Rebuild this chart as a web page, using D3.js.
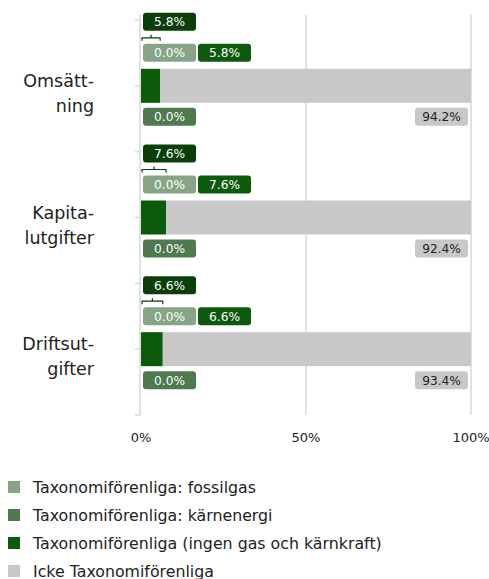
<!DOCTYPE html>
<html>
<head>
<meta charset="utf-8">
<script src="https://cdn.jsdelivr.net/npm/d3@7"></script>
<style>
  body { margin: 0; background: #fff; }
  svg text { font-family: "DejaVu Sans", sans-serif; }
</style>
</head>
<body>
<div id="chart-area"></div>
<script>
const categories = [["Omsätt-", "ning"], ["Kapita-", "lutgifter"], ["Driftsut-", "gifter"]];
const fossilgas = [0.0, 0.0, 0.0];
const karnenergi = [0.0, 0.0, 0.0];
const aligned = [5.8, 7.6, 6.6];
const notAligned = [94.2, 92.4, 93.4];
const xTicks = [0, 50, 100];
const legendLabels = [
    "Taxonomiförenliga: fossilgas",
    "Taxonomiförenliga: kärnenergi",
    "Taxonomiförenliga (ingen gas och kärnkraft)",
    "Icke Taxonomiförenliga"
];

const width = 489, height = 579;
const colors = {
    fossil: "#87a586",
    karn: "#4f7a50",
    aligned: "#0c5a0c",
    not: "#c8c8c8",
    total: "#0a3f0a"
};

const svg = d3.select("#chart-area").append("svg")
    .attr("width", width)
    .attr("height", height);

const x = d3.scaleLinear().domain([0, 100]).range([141, 471]);
const y = d3.scaleBand().domain(d3.range(categories.length)).range([20, 415]);

const fmt = v => v.toFixed(1) + "%";

// grid lines
svg.selectAll(".grid").data(xTicks.slice(1)).enter().append("line")
    .attr("x1", d => x(d)).attr("x2", d => x(d))
    .attr("y1", 15).attr("y2", 415)
    .attr("stroke", "#d9d9d9").attr("stroke-width", 1.5);

// y axis line + ticks
svg.append("line")
    .attr("x1", 140).attr("x2", 140).attr("y1", 15).attr("y2", 415)
    .attr("stroke", "#d9d9d9").attr("stroke-width", 1.5);
const tickYs = [];
categories.forEach((c, i) => { tickYs.push(y(i)); tickYs.push(y(i) + y.bandwidth() / 2); });
tickYs.push(415);
svg.selectAll(".ytick").data(tickYs).enter().append("line")
    .attr("x1", 135).attr("x2", 140).attr("y1", d => d).attr("y2", d => d)
    .attr("stroke", "#d9d9d9").attr("stroke-width", 1.5);

// x tick labels
svg.selectAll(".xlab").data(xTicks).enter().append("text")
    .attr("x", d => x(d)).attr("y", 442)
    .attr("text-anchor", "middle").attr("font-size", 13).attr("fill", "#222")
    .text(d => d + "%");

// category labels
categories.forEach((c, i) => {
    const cy = y(i) + y.bandwidth() / 2;
    const t = svg.append("text")
        .attr("text-anchor", "end").attr("font-size", 17.5).attr("fill", "#222");
    c.forEach((line, j) => {
        t.append("tspan").attr("x", 94).attr("y", cy + 1 + j * 25).text(line);
    });
});

const barH = 34;
const boxW = 53, boxH = 18;

function box(x0, y0, fill, txt, color) {
    svg.append("rect").attr("x", x0).attr("y", y0).attr("width", boxW).attr("height", boxH)
        .attr("rx", 3).attr("fill", fill);
    svg.append("text").attr("x", x0 + boxW / 2).attr("y", y0 + 13.5)
        .attr("text-anchor", "middle").attr("font-size", 12.2).attr("fill", color).text(txt);
}

categories.forEach((c, i) => {
    const cy = y(i) + y.bandwidth() / 2;
    const top = cy - barH / 2;
    const x0 = x(0);
    const x1 = x(fossilgas[i]);
    const x2 = x(fossilgas[i] + karnenergi[i]);
    const x3 = x(fossilgas[i] + karnenergi[i] + aligned[i]);
    const x4 = x(fossilgas[i] + karnenergi[i] + aligned[i] + notAligned[i]);

    svg.append("rect").attr("x", x0).attr("y", top).attr("width", x1 - x0).attr("height", barH).attr("fill", colors.fossil);
    svg.append("rect").attr("x", x1).attr("y", top).attr("width", x2 - x1).attr("height", barH).attr("fill", colors.karn);
    svg.append("rect").attr("x", x2).attr("y", top).attr("width", x3 - x2).attr("height", barH).attr("fill", colors.aligned);
    svg.append("rect").attr("x", x3).attr("y", top).attr("width", x4 - x3).attr("height", barH).attr("fill", colors.not);

    // labels
    const total = fossilgas[i] + karnenergi[i] + aligned[i];
    box(x0 + 2, top - 56, colors.total, fmt(total), "#fff");
    box(x0 + 2, top - 25, colors.fossil, fmt(fossilgas[i]), "#fff");
    box(x0 + 2 + boxW + 2, top - 25, colors.aligned, fmt(aligned[i]), "#fff");
    box(x0 + 2, top + barH + 5, colors.karn, fmt(karnenergi[i]), "#fff");
    box(x4 - boxW - 3, top + barH + 5, colors.not, fmt(notAligned[i]), "#222");

    // bracket
    const by = top - 31;
    const mid = (x0 + 1 + x3) / 2;
    svg.append("path")
        .attr("d", `M${x0 + 1},${by + 3}V${by}H${x3}V${by + 3}M${mid},${by}V${by - 3}`)
        .attr("fill", "none").attr("stroke", colors.total).attr("stroke-width", 1.2);
});

// legend
const legendColors = [colors.fossil, colors.karn, colors.aligned, colors.not];
const lg = svg.selectAll(".legend").data(legendLabels).enter().append("g")
    .attr("transform", (d, i) => `translate(8, ${487 + i * 28})`);
lg.append("rect").attr("x", 0).attr("y", -6).attr("width", 12).attr("height", 12)
    .attr("fill", (d, i) => legendColors[i]);
lg.append("text").attr("x", 25).attr("y", 6).attr("font-size", 15.8).attr("fill", "#222")
    .text(d => d);
</script>
</body>
</html>
